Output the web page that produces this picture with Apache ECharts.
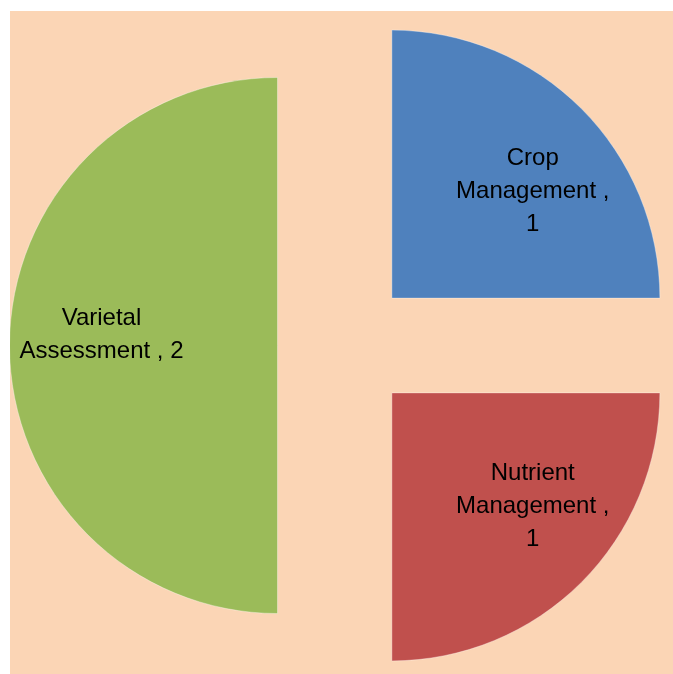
<!DOCTYPE html>
<html>
<head>
<meta charset="utf-8">
<script src="https://cdn.jsdelivr.net/npm/echarts@6/dist/echarts.min.js"></script>
<style>
    html, body { margin: 0; padding: 0; background: #ffffff; }
    #wrap { position: relative; width: 673px; height: 674px; background: #ffffff; }
    #pieChart { position: absolute; left: 10px; top: 11px; width: 663px; height: 663px; }
</style>
</head>
<body>
<div id="wrap"><div id="pieChart"></div></div>
<script>
    // categories and values
    var categories = ['Crop\nManagement ,\n1', 'Nutrient\nManagement ,\n1', 'Varietal\nAssessment , 2'];
    var values = [1, 1, 2];
    var colors = ['#4F81BD', '#C0504D', '#9BBB59'];
    var labelShift = [[44, -10], [44, 17], [-39, -11]]; // move labels where Excel put them

    function formatData(){ // series data, every slice pulled out
        var seriesData = [];
        for (var i = 0; i < values.length; i++) {
            seriesData.push({
                name: categories[i],
                value: values[i],
                selected: true,
                itemStyle: { color: colors[i] }
            });
        }
        return seriesData;
    }

    var option = {
        animation: false,
        backgroundColor: '#FBD5B5',
        series: [{
            type: 'pie',
            center: [334.5, 334.5],
            radius: 268,
            startAngle: 90,
            clockwise: true,
            selectedMode: 'multiple',
            selectedOffset: 67,
            silent: true,
            itemStyle: {
                borderColor: 'rgba(255,255,255,0.35)',
                borderWidth: 1
            },
            label: {
                show: true,
                position: 'inside',
                formatter: '{b}',
                color: '#000000',
                fontFamily: 'Liberation Sans',
                fontSize: 24,
                lineHeight: 33,
                align: 'center'
            },
            labelLayout: function (params) {
                var s = labelShift[params.dataIndex];
                return { dx: s[0], dy: s[1] };
            },
            labelLine: { show: false },
            emphasis: { disabled: true },
            data: formatData()
        }]
    };
    echarts.init(document.getElementById('pieChart')).setOption(option);
</script>
</body>
</html>
